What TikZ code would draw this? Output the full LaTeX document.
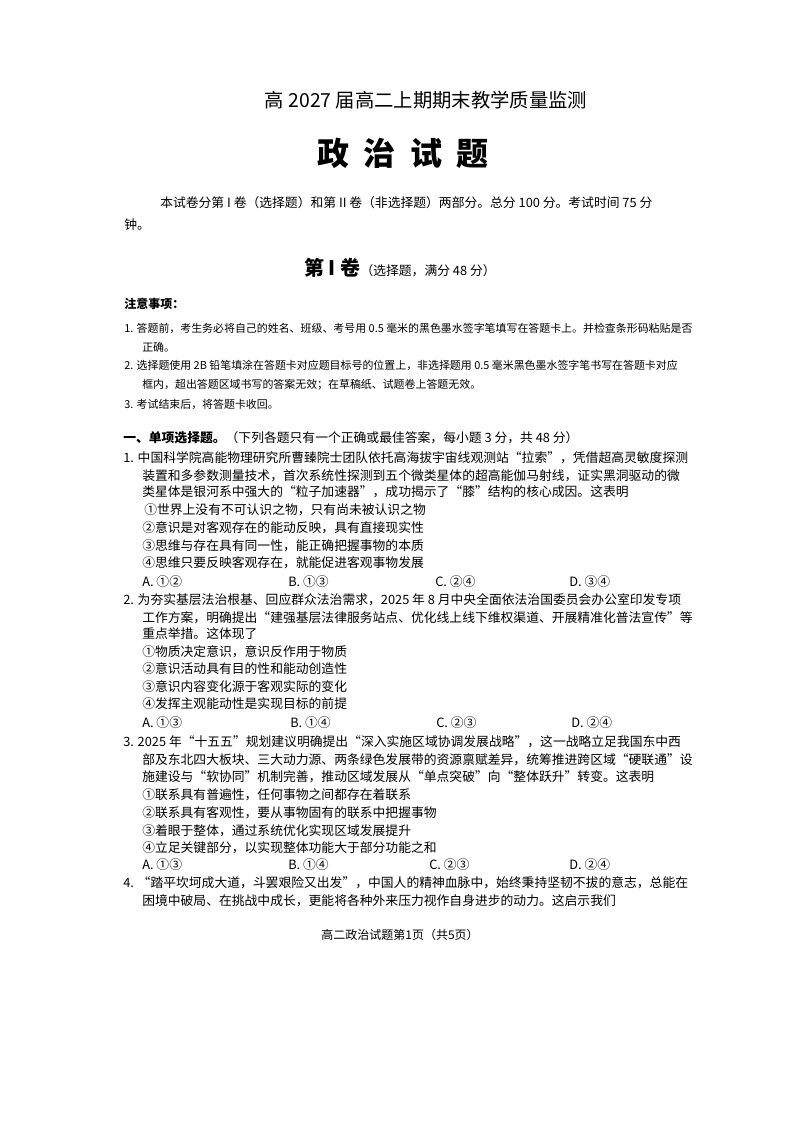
\documentclass[tikz,border=0pt]{standalone}
\usepackage{fontspec}
\setmainfont{Noto Sans CJK SC}
\usetikzlibrary{positioning}
\tikzset{
  body/.style={anchor=west, inner sep=0pt, font=\fontsize{9.6}{11}\selectfont},
  note/.style={anchor=west, inner sep=0pt, font=\fontsize{8.2}{10}\selectfont},
}
\begin{document}
\begin{tikzpicture}[x=0.75pt,y=-0.75pt]
  \useasboundingbox (0,0) rectangle (800,1132);
  % headings
  \node[inner sep=0pt, font=\fontsize{14.5}{16}\selectfont] (ttl) at (426,100) {高 2027 届高二上期期末教学质量监测};
  \node[inner sep=0pt, font=\fontsize{24}{26}\selectfont\bfseries] (subj) at (403,153) {政\hspace{0.45em}治\hspace{0.45em}试\hspace{0.45em}题};
  \node[body] (intro1) at (160,203) {本试卷分第 I 卷（选择题）和第 II 卷（非选择题）两部分。总分 100 分。考试时间 75 分};
  \node[body] (intro2) at (124,225) {钟。};
  \node[inner sep=0pt] (vol) at (400,268) {{\fontsize{15}{16}\selectfont\bfseries 第 I 卷}{\fontsize{9.6}{11}\selectfont（选择题，满分 48 分）}};
  % notes
  \node[note, font=\fontsize{9}{10}\selectfont\bfseries] (nt) at (124,304) {注意事项：};
  \node[note] (n1a) at (124,328) {1. 答题前，考生务必将自己的姓名、班级、考号用 0.5 毫米的黑色墨水签字笔填写在答题卡上。并检查条形码粘贴是否};
  \node[note] (n1b) at (142,347) {正确。};
  \node[note] (n2a) at (124,365) {2. 选择题使用 2B 铅笔填涂在答题卡对应题目标号的位置上，非选择题用 0.5 毫米黑色墨水签字笔书写在答题卡对应};
  \node[note] (n2b) at (142,385) {框内，超出答题区域书写的答案无效；在草稿纸、试题卷上答题无效。};
  \node[note] (n3) at (124,404) {3. 考试结束后，将答题卡收回。};
  % part one
  \node[body] (sec) at (123,438) {{\bfseries 一、单项选择题。}（下列各题只有一个正确或最佳答案，每小题 3 分，共 48 分）};
  % question 1
  \node[body] (q1a) at (123,458) {1. 中国科学院高能物理研究所曹臻院士团队依托高海拔宇宙线观测站“拉索”，凭借超高灵敏度探测};
  \node[body] (q1b) at (142,476) {装置和多参数测量技术，首次系统性探测到五个微类星体的超高能伽马射线，证实黑洞驱动的微};
  \node[body] (q1c) at (142,492) {类星体是银河系中强大的“粒子加速器”，成功揭示了“膝”结构的核心成因。这表明};
  \node[body] (q1o1) at (144,510) {①世界上没有不可认识之物，只有尚未被认识之物};
  \node[body] (q1o2) at (142,528) {②意识是对客观存在的能动反映，具有直接现实性};
  \node[body] (q1o3) at (142,546) {③思维与存在具有同一性，能正确把握事物的本质};
  \node[body] (q1o4) at (142,563) {④思维只要反映客观存在，就能促进客观事物发展};
  \node[body] (q1A) at (142,582) {A. ①②};
  \node[body] (q1B) at (288,582) {B. ①③};
  \node[body] (q1C) at (435,582) {C. ②④};
  \node[body] (q1D) at (569,582) {D. ③④};
  % question 2
  \node[body] (q2a) at (123,600) {2. 为夯实基层法治根基、回应群众法治需求，2025 年 8 月中央全面依法治国委员会办公室印发专项};
  \node[body] (q2b) at (142,618) {工作方案，明确提出“建强基层法律服务站点、优化线上线下维权渠道、开展精准化普法宣传”等};
  \node[body] (q2c) at (142,634) {重点举措。这体现了};
  \node[body] (q2o1) at (142,652) {①物质决定意识，意识反作用于物质};
  \node[body] (q2o2) at (142,669) {②意识活动具有目的性和能动创造性};
  \node[body] (q2o3) at (142,687) {③意识内容变化源于客观实际的变化};
  \node[body] (q2o4) at (142,704) {④发挥主观能动性是实现目标的前提};
  \node[body] (q2A) at (142,723) {A. ①③};
  \node[body] (q2B) at (290,723) {B. ①④};
  \node[body] (q2C) at (436,723) {C. ②③};
  \node[body] (q2D) at (571,723) {D. ②④};
  % question 3
  \node[body] (q3a) at (123,742) {3. 2025 年“十五五”规划建议明确提出“深入实施区域协调发展战略”，这一战略立足我国东中西};
  \node[body] (q3b) at (142,760) {部及东北四大板块、三大动力源、两条绿色发展带的资源禀赋差异，统筹推进跨区域“硬联通”设};
  \node[body] (q3c) at (142,777) {施建设与“软协同”机制完善，推动区域发展从“单点突破”向“整体跃升”转变。这表明};
  \node[body] (q3o1) at (142,795) {①联系具有普遍性，任何事物之间都存在着联系};
  \node[body] (q3o2) at (142,813) {②联系具有客观性，要从事物固有的联系中把握事物};
  \node[body] (q3o3) at (142,831) {③着眼于整体，通过系统优化实现区域发展提升};
  \node[body] (q3o4) at (142,848) {④立足关键部分，以实现整体功能大于部分功能之和};
  \node[body] (q3A) at (142,865) {A. ①③};
  \node[body] (q3B) at (288,865) {B. ①④};
  \node[body] (q3C) at (429,865) {C. ②③};
  \node[body] (q3D) at (569,865) {D. ②④};
  % question 4
  \node[body] (q4a) at (123,883) {4. “踏平坎坷成大道，斗罢艰险又出发”，中国人的精神血脉中，始终秉持坚韧不拔的意志，总能在};
  \node[body] (q4b) at (142,901) {困境中破局、在挑战中成长，更能将各种外来压力视作自身进步的动力。这启示我们};
  % footer
  \node[inner sep=0pt, font=\fontsize{9}{10}\selectfont] (foot) at (400,935) {高二政治试题第1页（共5页）};
\end{tikzpicture}
\end{document}
